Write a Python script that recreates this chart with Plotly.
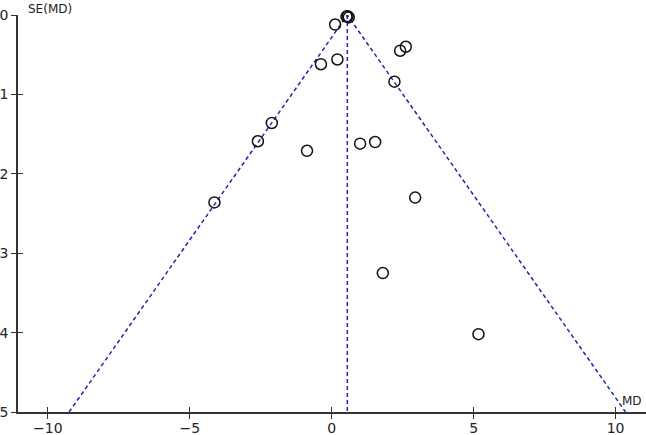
import plotly.graph_objects as go

# study estimates
md = [0.52, 0.56, 0.6, 0.12, 2.61, 2.41, 2.21, -0.38, 0.2, -2.11, -2.6, -0.87,
      1.0, 1.53, -4.13, 2.94, 1.8, 5.17]
se = [0.02, 0.015, 0.03, 0.12, 0.4, 0.45, 0.84, 0.62, 0.56, 1.36, 1.59, 1.71,
      1.62, 1.6, 2.36, 2.3, 3.25, 4.02]
pooled_md = 0.55
se_max = 5
x_ticks = [-10, -5, 0, 5, 10]
y_ticks = [0, 1, 2, 3, 4, 5]

blue = "#2424b4"
axis_col = "#333333"
font = dict(family="DejaVu Sans", size=14, color="#222222")

fig = go.Figure()

# funnel (95% pseudo confidence limits) and pooled line
fig.add_trace(go.Scatter(
    x=[pooled_md - 1.96 * se_max, pooled_md, pooled_md + 1.96 * se_max],
    y=[se_max, 0, se_max],
    mode="lines", line=dict(color=blue, width=1.5, dash="4px,3px"),
    hoverinfo="skip", cliponaxis=False
))
fig.add_trace(go.Scatter(
    x=[pooled_md, pooled_md], y=[0, se_max],
    mode="lines", line=dict(color=blue, width=1.5, dash="4px,3px"),
    hoverinfo="skip", cliponaxis=False
))

fig.add_trace(go.Scatter(
    x=md, y=se, mode="markers", cliponaxis=False,
    marker=dict(symbol="circle-open", size=11, color="#111111",
                line=dict(width=1.5, color="#111111"))
))

axis_common = dict(showgrid=False, zeroline=False, showline=True, automargin=False,
                   linecolor=axis_col, linewidth=1.5, tickcolor=axis_col,
                   tickwidth=1.2, ticklen=5, tickfont=font)

fig.update_layout(
    width=646, height=435,
    margin=dict(l=18, r=0, t=15, b=23),
    plot_bgcolor="white", paper_bgcolor="white",
    showlegend=False,
    xaxis=dict(range=[-11.05, 11.07], tickvals=x_ticks, ticks="outside",
               ticklabelstandoff=-3, **axis_common),
    yaxis=dict(range=[se_max, 0], tickvals=y_ticks, ticks="outside", **axis_common),
    # second pair of axes so the tick marks cross the axis lines
    xaxis2=dict(range=[-11.05, 11.07], tickvals=x_ticks, ticks="inside",
                overlaying="x", side="bottom", showticklabels=False, automargin=False,
                showgrid=False, zeroline=False, showline=False,
                tickcolor=axis_col, tickwidth=1.2, ticklen=5),
    yaxis2=dict(range=[se_max, 0], tickvals=y_ticks, ticks="inside",
                overlaying="y", side="left", showticklabels=False, automargin=False,
                showgrid=False, zeroline=False, showline=False,
                tickcolor=axis_col, tickwidth=1.2, ticklen=5),
)
fig.add_trace(go.Scatter(x=[None], y=[None], xaxis="x2", yaxis="y2", hoverinfo="skip"))

fig.add_annotation(text="SE(MD)", xref="paper", yref="paper", x=0.012, y=1.0,
                   xanchor="left", yanchor="bottom", yshift=-3, showarrow=False,
                   font=dict(family="DejaVu Sans", size=12, color="#222222"))
fig.add_annotation(text="MD", xref="paper", yref="paper", x=0.997, y=0.0,
                   xanchor="right", yanchor="bottom", yshift=2, showarrow=False,
                   font=dict(family="DejaVu Sans", size=12, color="#222222"))

fig.write_html("out.html", config={"displayModeBar": False},
               post_script="document.body.style.margin='0';")
